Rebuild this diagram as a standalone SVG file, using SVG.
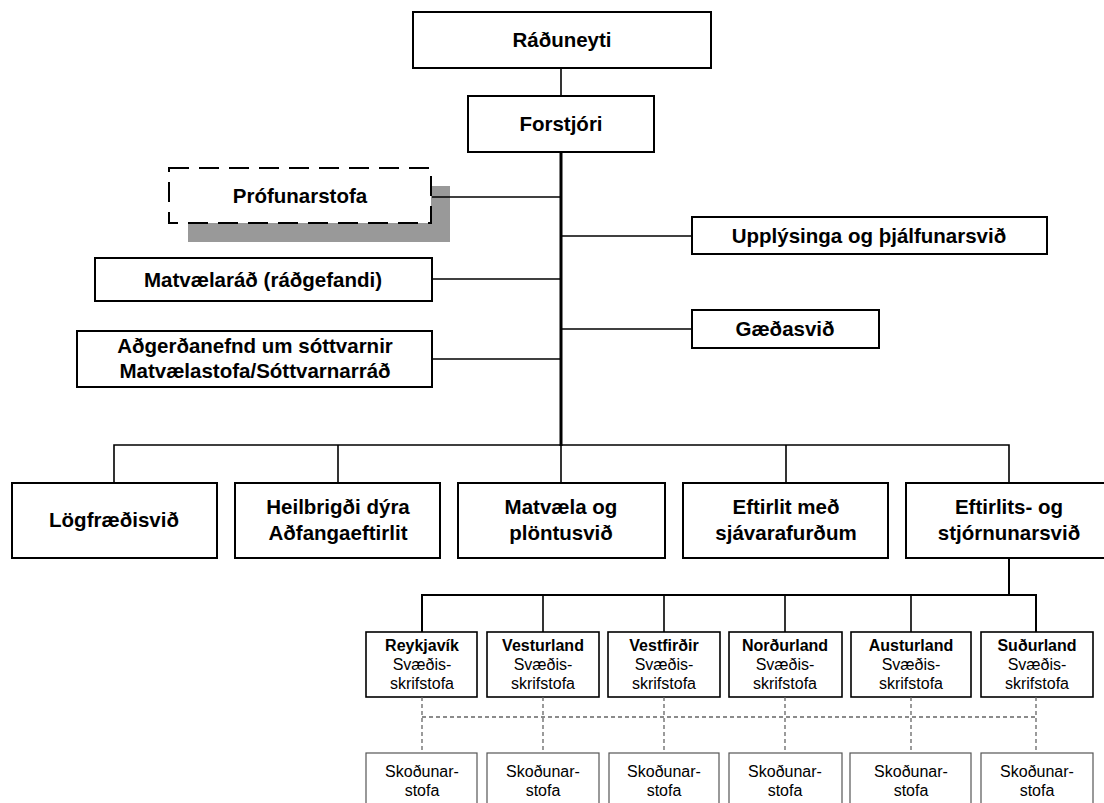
<svg xmlns="http://www.w3.org/2000/svg" width="1104" height="803" viewBox="0 0 1104 803">
<style>
.bg{fill:#ffffff}
.box{fill:#ffffff;stroke:#000;stroke-width:2}
.dbox{fill:#ffffff;stroke:#000;stroke-width:2;stroke-dasharray:20 10}
.shadow{fill:#999999}
.rbox{fill:#ffffff;stroke:#000;stroke-width:1.6}
.sbox{fill:#ffffff;stroke:#555;stroke-width:1.2}
.ln{stroke:#000;stroke-width:1.6;fill:none}
.thick{stroke:#000;stroke-width:3;fill:none}
.mid{stroke:#000;stroke-width:2;fill:none}
.dl{stroke:#666;stroke-width:1.3;stroke-dasharray:4 3;fill:none}
.t{font-family:"Liberation Sans",Arial,sans-serif;font-weight:bold;font-size:20.5px;fill:#000;text-anchor:middle}
.tb{font-family:"Liberation Sans",Arial,sans-serif;font-weight:bold;font-size:16px;fill:#000;text-anchor:middle}
.tn{font-family:"Liberation Sans",Arial,sans-serif;font-size:16px;fill:#000;text-anchor:middle}
</style>
<rect class="bg" x="0" y="0" width="1104" height="803"/>
<g id="radRuneyti"><rect class="box" x="413" y="12" width="298" height="56"/><text class="t" x="562" y="47">Ráðuneyti</text></g>
<g id="forstjori"><rect class="box" x="468" y="96" width="186" height="56"/><text class="t" x="561" y="131">Forstjóri</text></g>
<g id="profunarstofa"><rect class="shadow" x="188" y="186" width="262" height="56"/><rect class="dbox" x="169" y="168" width="262" height="55"/><text class="t" x="300" y="203">Prófunarstofa</text></g>
<g id="upplysinga"><rect class="box" x="692" y="217" width="355" height="37"/><text class="t" x="869" y="243">Upplýsinga og þjálfunarsvið</text></g>
<g id="matvaelarad"><rect class="box" x="95" y="258" width="337" height="43"/><text class="t" x="263" y="287">Matvælaráð (ráðgefandi)</text></g>
<g id="gaedasvid"><rect class="box" x="692" y="310" width="187" height="38"/><text class="t" x="785" y="336">Gæðasvið</text></g>
<g id="adgerdanefnd"><rect class="box" x="77" y="331" width="355" height="56"/><text class="t" x="255" y="353">Aðgerðanefnd um sóttvarnir</text><text class="t" x="255" y="378">Matvælastofa/Sóttvarnarráð</text></g>
<g id="logfraedisvid"><rect class="box" x="12" y="483" width="205" height="75"/><text class="t" x="114" y="527">Lögfræðisvið</text></g>
<g id="heilbrigdi"><rect class="box" x="235" y="483" width="205" height="75"/><text class="t" x="338" y="514">Heilbrigði dýra</text><text class="t" x="338" y="540">Aðfangaeftirlit</text></g>
<g id="matvaela"><rect class="box" x="458" y="483" width="207" height="75"/><text class="t" x="561" y="514">Matvæla og</text><text class="t" x="561" y="540">plöntusvið</text></g>
<g id="eftirlit"><rect class="box" x="683" y="483" width="205" height="75"/><text class="t" x="786" y="514">Eftirlit með</text><text class="t" x="786" y="540">sjávarafurðum</text></g>
<g id="eftirlits"><rect class="box" x="906" y="483" width="210" height="75"/><text class="t" x="1009" y="514">Eftirlits- og</text><text class="t" x="1009" y="540">stjórnunarsvið</text></g>
<g id="reykjavik"><rect class="rbox" x="366" y="632" width="111" height="65"/><text class="tb" x="422" y="651">Reykjavík</text><text class="tn" x="422" y="670">Svæðis-</text><text class="tn" x="422" y="689">skrifstofa</text></g>
<g id="vesturland"><rect class="rbox" x="487" y="632" width="112" height="65"/><text class="tb" x="543" y="651">Vesturland</text><text class="tn" x="543" y="670">Svæðis-</text><text class="tn" x="543" y="689">skrifstofa</text></g>
<g id="vestfirdir"><rect class="rbox" x="608" y="632" width="112" height="65"/><text class="tb" x="664" y="651">Vestfirðir</text><text class="tn" x="664" y="670">Svæðis-</text><text class="tn" x="664" y="689">skrifstofa</text></g>
<g id="nordurland"><rect class="rbox" x="729" y="632" width="113" height="65"/><text class="tb" x="785" y="651">Norðurland</text><text class="tn" x="785" y="670">Svæðis-</text><text class="tn" x="785" y="689">skrifstofa</text></g>
<g id="austurland"><rect class="rbox" x="851" y="632" width="120" height="65"/><text class="tb" x="911" y="651">Austurland</text><text class="tn" x="911" y="670">Svæðis-</text><text class="tn" x="911" y="689">skrifstofa</text></g>
<g id="sudurland"><rect class="rbox" x="981" y="632" width="112" height="65"/><text class="tb" x="1037" y="651">Suðurland</text><text class="tn" x="1037" y="670">Svæðis-</text><text class="tn" x="1037" y="689">skrifstofa</text></g>
<g id="skodun-reykjavik"><rect class="sbox" x="366" y="753" width="111" height="60"/><text class="tn" x="422" y="777">Skoðunar-</text><text class="tn" x="422" y="796">stofa</text></g>
<g id="skodun-vesturland"><rect class="sbox" x="487" y="753" width="112" height="60"/><text class="tn" x="543" y="777">Skoðunar-</text><text class="tn" x="543" y="796">stofa</text></g>
<g id="skodun-vestfirdir"><rect class="sbox" x="609" y="753" width="110" height="60"/><text class="tn" x="664" y="777">Skoðunar-</text><text class="tn" x="664" y="796">stofa</text></g>
<g id="skodun-nordurland"><rect class="sbox" x="729" y="753" width="113" height="60"/><text class="tn" x="785" y="777">Skoðunar-</text><text class="tn" x="785" y="796">stofa</text></g>
<g id="skodun-austurland"><rect class="sbox" x="850" y="753" width="121" height="60"/><text class="tn" x="911" y="777">Skoðunar-</text><text class="tn" x="911" y="796">stofa</text></g>
<g id="skodun-sudurland"><rect class="sbox" x="981" y="753" width="112" height="60"/><text class="tn" x="1037" y="777">Skoðunar-</text><text class="tn" x="1037" y="796">stofa</text></g>
<g id="connectors">
<line class="ln" x1="561" y1="68" x2="561" y2="96"/>
<line class="ln" x1="432" y1="197" x2="561" y2="197"/>
<line class="ln" x1="561" y1="236" x2="692" y2="236"/>
<line class="ln" x1="432" y1="279" x2="561" y2="279"/>
<line class="ln" x1="561" y1="329" x2="692" y2="329"/>
<line class="ln" x1="432" y1="359" x2="561" y2="359"/>
<line class="thick" x1="561" y1="152" x2="561" y2="446"/>
<polyline class="ln" points="114,483 114,445 1009,445 1009,483"/>
<line class="ln" x1="338" y1="445" x2="338" y2="483"/>
<line class="ln" x1="561" y1="445" x2="561" y2="483"/>
<line class="ln" x1="786" y1="445" x2="786" y2="483"/>
<line class="mid" x1="1009" y1="558" x2="1009" y2="595"/>
<polyline class="mid" points="422,632 422,595 1036,595 1036,632"/>
<line class="ln" x1="543" y1="595" x2="543" y2="632"/>
<line class="ln" x1="664" y1="595" x2="664" y2="632"/>
<line class="ln" x1="785" y1="595" x2="785" y2="632"/>
<line class="ln" x1="911" y1="595" x2="911" y2="632"/>
<line class="dl" x1="422" y1="717" x2="1036" y2="717"/>
<line class="dl" x1="422" y1="697" x2="422" y2="753"/>
<line class="dl" x1="543" y1="697" x2="543" y2="753"/>
<line class="dl" x1="664" y1="697" x2="664" y2="753"/>
<line class="dl" x1="785" y1="697" x2="785" y2="753"/>
<line class="dl" x1="911" y1="697" x2="911" y2="753"/>
<line class="dl" x1="1036" y1="697" x2="1036" y2="753"/>
</g>
</svg>
